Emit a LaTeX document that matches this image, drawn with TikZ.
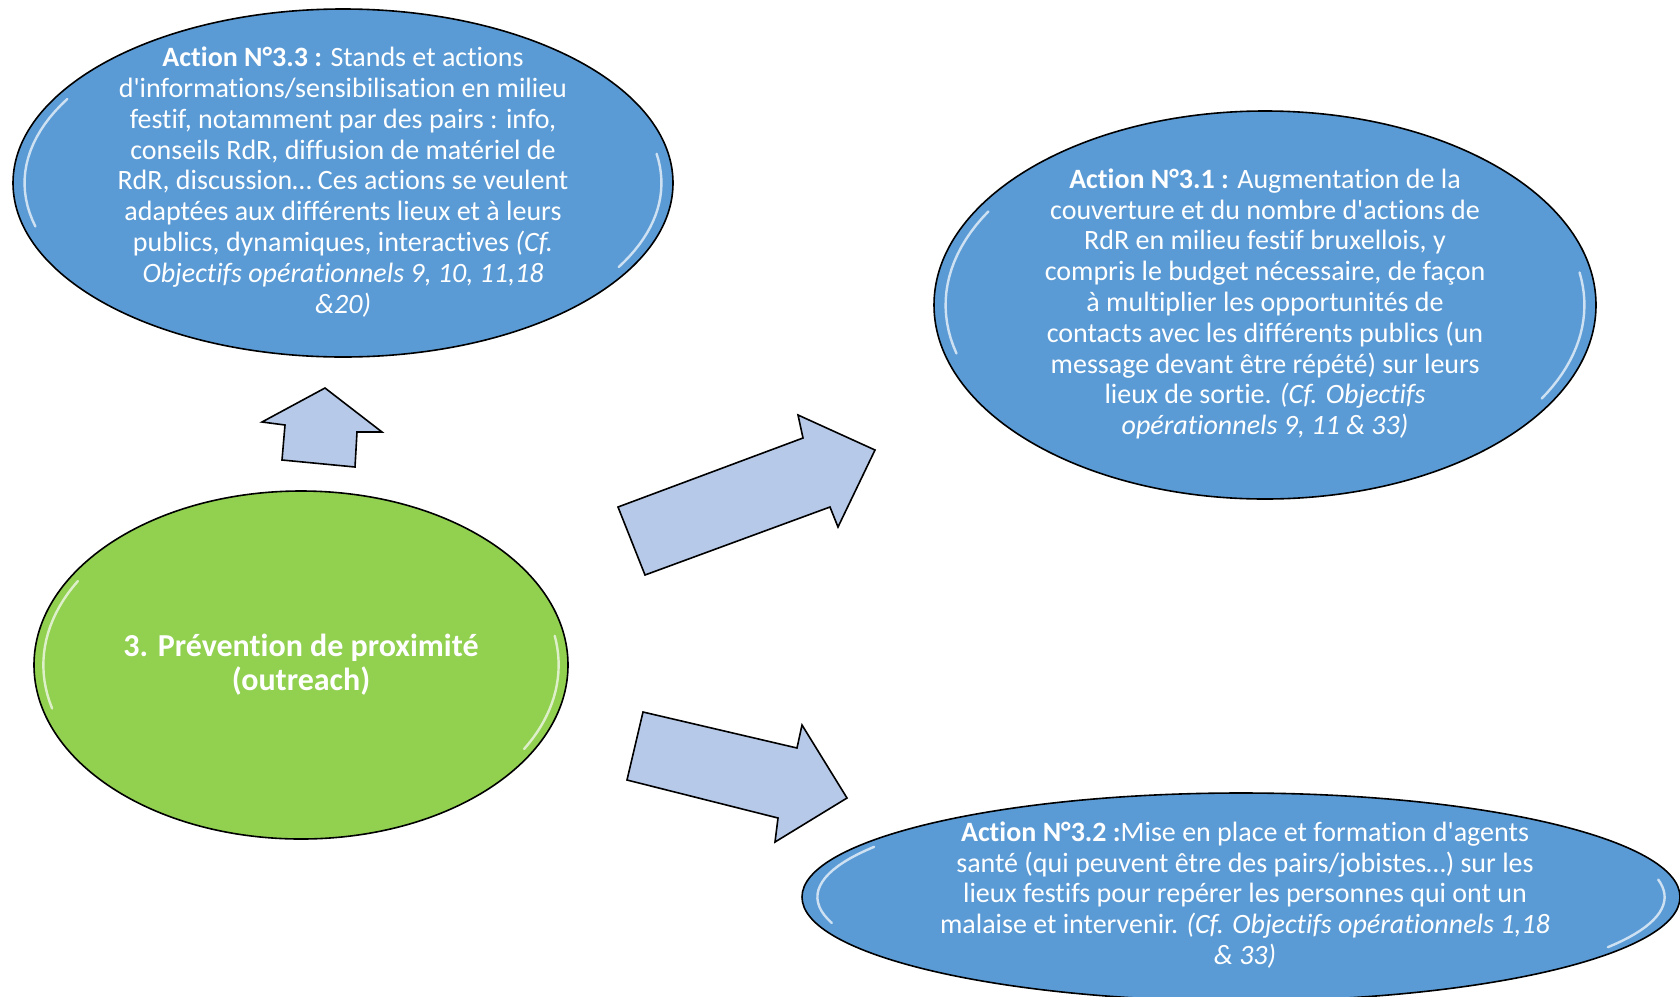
\documentclass[tikz,border=0pt]{standalone}
\usepackage{fontspec}
\setmainfont{Carlito}[Ligatures={TeXOff,NoCommon}]
\usetikzlibrary{shapes.geometric, calc}
\definecolor{ovalblue}{RGB}{91, 155, 213}
\definecolor{themegreen}{RGB}{146, 208, 80}
\definecolor{arrowblue}{RGB}{183, 201, 232}

\begin{document}
\begin{tikzpicture}[x=0.5pt, y=-0.5pt,
        oval/.style={ellipse, draw=black, line width=0.8pt, inner sep=0pt},
        actionoval/.style={oval, fill=ovalblue},
        themeoval/.style={oval, fill=themegreen},
        ovaltext/.style={text=white, align=center, inner sep=0pt, font=\fontsize{14}{15.4}\selectfont},
        blockarrow/.style={draw=black, line width=0.8pt, fill=arrowblue, line join=miter},
        gloss/.style={white, line width=1.2pt, opacity=0.7, line cap=round},
      ]
      \useasboundingbox (0,0) rectangle (1680,996);
      \clip (0,0) rectangle (1680,996);

      \node[actionoval, minimum width=330pt, minimum height=174pt] (a33) at (343,183) {};
      \node[actionoval, minimum width=331pt, minimum height=194pt] (a31) at (1265,305) {};
      \node[actionoval, minimum width=439pt, minimum height=104pt] (a32) at (1241,897) {};
      \node[themeoval, minimum width=267pt, minimum height=174pt] (theme) at (301,665) {};

      \foreach \cx/\cy/\rx/\ry in {343/183/330/174, 1265/305/331/194, 1241/897/439/104, 301/665/267/174} {
        \draw[gloss] plot[domain=165:210, samples=20] ({\cx+0.965*\rx*cos(\x)}, {\cy+0.965*\ry*sin(\x)});
        \draw[gloss] plot[domain=-10:30, samples=20] ({\cx+0.965*\rx*cos(\x)}, {\cy+0.965*\ry*sin(\x)});
      }

      \node[ovaltext] (a33txt) at (343,182) {\textbf{Action N°3.3 :} Stands et actions\\
        d'informations/sensibilisation en milieu\\
        festif, notamment par des pairs : info,\\
        conseils RdR, diffusion de matériel de\\
        RdR, discussion… Ces actions se veulent\\
        adaptées aux différents lieux et à leurs\\
        publics, dynamiques, interactives \textit{(Cf.}\\
        \textit{Objectifs opérationnels 9, 10, 11,18}\\
        \textit{\&20)}};
      \node[ovaltext] (a31txt) at (1265,304) {\textbf{Action N°3.1 :} Augmentation de la\\
        couverture et du nombre d'actions de\\
        RdR en milieu festif bruxellois, y\\
        compris le budget nécessaire, de façon\\
        à multiplier les opportunités de\\
        contacts avec les différents publics (un\\
        message devant être répété) sur leurs\\
        lieux de sortie. \textit{(Cf. Objectifs}\\
        \textit{opérationnels 9, 11 \& 33)}};
      \node[ovaltext] (a32txt) at (1245,895) {\textbf{Action N°3.2 :}Mise en place et formation d'agents\\
        santé (qui peuvent être des pairs/jobistes…) sur les\\
        lieux festifs pour repérer les personnes qui ont un\\
        malaise et intervenir. \textit{(Cf. Objectifs opérationnels 1,18}\\
        \textit{\& 33)}};
      \node[ovaltext, font=\fontsize{16}{17}\selectfont\bfseries] (themetxt) at (301,665) {3. Prévention de proximité\\(outreach)};

      \draw[blockarrow] (282,460) -- (285,425) -- (262,422) -- (325,388) -- (382,432) -- (357,432) -- (355,467) -- cycle;
      \draw[blockarrow] (618,507) -- (803,438) -- (798,415) -- (875,450) -- (838,527) -- (830,507) -- (645,575) -- cycle;
      \draw[blockarrow] (643,712) -- (797,748) -- (802,725) -- (847,798) -- (775,842) -- (778,818) -- (627,780) -- cycle;
      \end{tikzpicture}
\end{document}
